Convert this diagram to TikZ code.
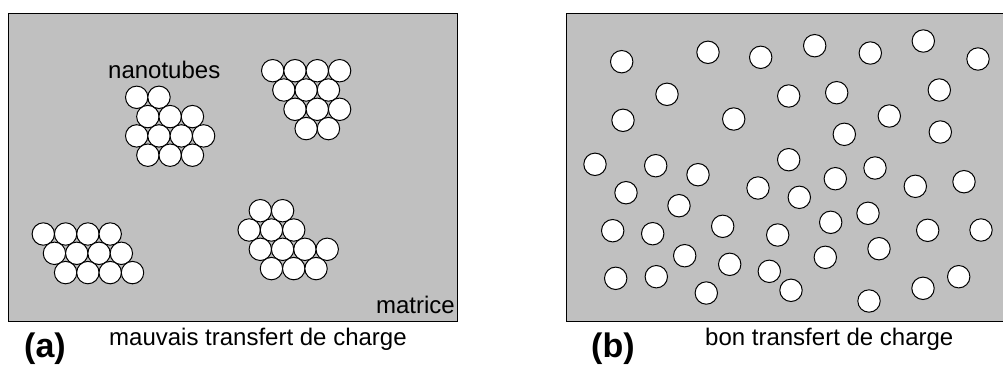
\documentclass[tikz,border=0pt]{standalone}
\usepackage{fontspec}
\setmainfont{Liberation Sans}
\definecolor{matrixgray}{RGB}{192,192,192}
\tikzset{
    tube/.style={draw, fill=white, line width=1pt},
    matrixbox/.style={draw, fill=matrixgray, line width=1pt},
    txt/.style={font=\fontsize{24}{28}\selectfont, inner sep=0pt},
    tag/.style={font=\fontsize{34}{40}\selectfont\bfseries, inner sep=0pt},
}
\begin{document}
\begin{tikzpicture}[x=1pt,y=-1pt]
    \useasboundingbox (0,0) rectangle (1003,367);
    \draw[matrixbox] (8,13) rectangle (457,321);
    \draw[matrixbox] (566,13) rectangle (1004,321);
    % (a) bundles
    \foreach \k/\r in {0/0,2/0,1/1,3/1,5/1,0/2,2/2,4/2,6/2,1/3,3/3,5/3} {
        \draw[tube] ({136.7+\k*11.15},{97.3+\r*19.3}) circle[radius=11.2pt];
    }
    \foreach \k/\r in {0/0,2/0,4/0,6/0,1/1,3/1,5/1,2/2,4/2,6/2,3/3,5/3} {
        \draw[tube] ({272.7+\k*11.15},{70.7+\r*19.3}) circle[radius=11.2pt];
    }
    \foreach \k/\r in {0/0,2/0,4/0,6/0,1/1,3/1,5/1,7/1,2/2,4/2,6/2,8/2} {
        \draw[tube] ({43.3+\k*11.15},{234+\r*19.3}) circle[radius=11.2pt];
    }
    \foreach \k/\r in {0/0,2/0,-1/1,1/1,3/1,0/2,2/2,4/2,6/2,1/3,3/3,5/3} {
        \draw[tube] ({260.3+\k*11.15},{210.7+\r*19.3}) circle[radius=11.2pt];
    }
    % (b) dispersed
    \foreach \x/\y in {621.7/61.7, 708/52.3, 760.7/57.3, 814.7/45.7, 870.3/53,
            923.3/41, 978/59, 667/94.3, 788.7/96, 836.7/92.7, 939.3/90,
            623/120.3, 733.7/119, 889.3/116, 844.3/134.3, 940.3/132,
            595/164.3, 655.7/165.7, 698/174.7, 788.7/159.7, 875/168,
            835.3/178.7, 915.3/186.3, 964/181.7, 626/192.7, 758/188,
            799.3/197.3, 679/205.7, 612.7/230.7, 652.7/233.7, 722.7/226.3,
            777.7/235, 830.7/222.3, 868/213.3, 927.7/230.3, 981/230,
            684.7/255.7, 729.7/264.3, 769.3/271.3, 825.3/257.3, 879/248.7,
            615.7/278.3, 656.3/276.7, 706.3/293, 791/290.3, 869/301,
            923/288.3, 958.7/276.7} {
        \draw[tube] (\x,\y) circle[radius=11.2pt];
    }
    \node[txt, anchor=base west] (nano) at (108,78) {nanotubes};
    \node[txt, anchor=base east] (matrix) at (455,313) {matrice};
    \node[tag, anchor=base west] (taga) at (24,357) {(a)};
    \node[txt, anchor=base west] (capa) at (109,345) {mauvais transfert de charge};
    \node[tag, anchor=base west] (tagb) at (591,357) {(b)};
    \node[txt, anchor=base west] (capb) at (705,345) {bon transfert de charge};
\end{tikzpicture}
\end{document}
